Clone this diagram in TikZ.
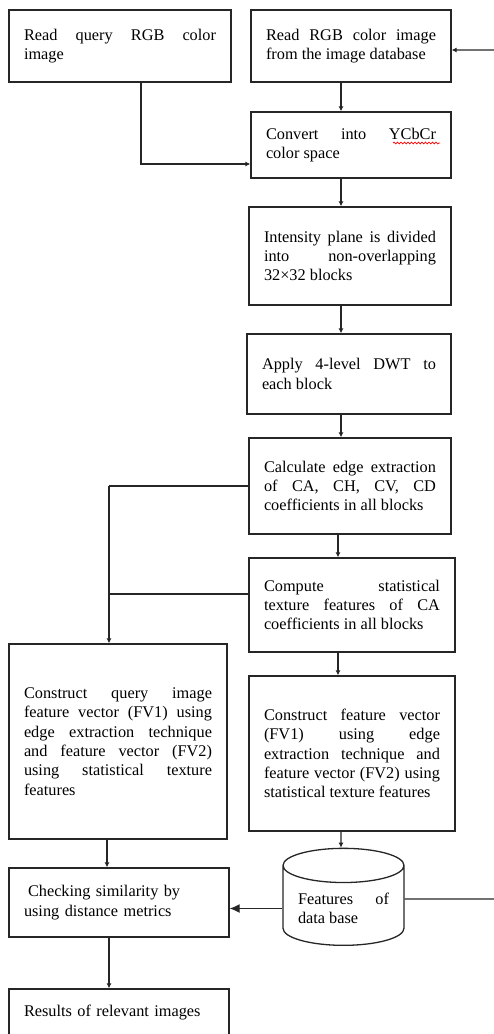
\documentclass[tikz,border=0pt]{standalone}
\usepackage{fontspec}
\setmainfont{Liberation Serif}
\usepackage{tikz}
\usetikzlibrary{positioning,arrows.meta,calc,shapes.geometric,decorations.pathmorphing}
\tolerance=10000
\hbadness=10000

\begin{document}
\begin{tikzpicture}[
  x=1pt, y=-1pt,
  box/.style={draw=black!85, line width=1.3pt, inner xsep=15pt, inner ysep=0pt, align=justify, font=\fontsize{16.3}{19.4}\selectfont},
  dbase/.style={draw=black!85, line width=1.3pt, cylinder, shape border rotate=90, aspect=0.35, minimum width=121pt, minimum height=97pt, text width=91pt, align=justify, font=\fontsize{16.3}{19.4}\selectfont},
  arr/.style={draw=black!85, line width=1.3pt, -{Latex[length=5pt,width=5pt]}},
  bigarr/.style={draw=black!85, line width=1.3pt, -{Latex[length=10pt,width=9pt]}},
  ln/.style={draw=black!85, line width=1.3pt}
]
\useasboundingbox (0,0) rectangle (493,1034);

% right column
\node[box, text width=192pt, minimum height=72pt] (rqry) at (120,46) {Read query RGB color\linebreak image};
\node[box, text width=170pt, minimum height=72pt] (rdb) at (351,46) {Read RGB color image\linebreak from the image database};
\node[box, text width=170pt, minimum height=66pt] (conv) at (351,145) {Convert into YCbCr\linebreak color space};
\node[box, text width=172pt, minimum height=98pt] (plane) at (350,256) {Intensity plane is divided\linebreak into non-overlapping\linebreak 32×32 blocks};
\node[box, text width=174pt, minimum height=80pt] (dwt) at (349,374) {Apply 4-level DWT to\linebreak each block};
\node[box, text width=172pt, minimum height=96pt] (edge) at (350,486) {Calculate edge extraction\linebreak of CA, CH, CV, CD\linebreak coefficients in all blocks};
\node[box, text width=176pt, minimum height=94pt] (stat) at (352,605) {Compute statistical\linebreak texture features of CA\linebreak coefficients in all blocks};
\node[box, text width=176pt, minimum height=155pt] (fvdb) at (352,753.5) {Construct feature vector\linebreak (FV1) using edge\linebreak extraction technique and\linebreak feature vector (FV2) using\linebreak statistical texture features};
\node[dbase] (feat) at (343.5,908.5) {Features of\linebreak data base};

% left column
\node[box, text width=188pt, minimum height=195pt] (fvq) at (118,741.5) {Construct query image\linebreak feature vector (FV1) using\linebreak edge extraction technique\linebreak and feature vector (FV2)\linebreak using statistical texture\linebreak features};
\node[box, text width=190pt, minimum height=69pt, align=left] (sim) at (119,902.5) {\hspace*{4pt}Checking similarity by\\using distance metrics};
\node[box, text width=190pt, minimum height=48pt, align=left] (res) at (119,1013) {Results of relevant images};

% spell check mark
\draw[red, line width=0.7pt, decorate, decoration={snake, amplitude=0.9pt, segment length=3.5pt}] (393,143) -- (440,143);

\coordinate (fm) at (109,486);
\coordinate (hm) at (109,594);
\coordinate (fbr) at (497,899);

\draw[arr] ([xshift=-10pt]rdb.south) -- ([xshift=-10pt]conv.north);
\draw[arr] ([xshift=21pt]rqry.south) |- ([yshift=-19pt]conv.west);
\draw[arr] ([xshift=-10pt]conv.south) -- ([xshift=-9pt]plane.north);
\draw[arr] ([xshift=-9pt]plane.south) -- ([xshift=-8pt]dwt.north);
\draw[arr] ([xshift=-8pt]dwt.south) -- ([xshift=-9pt]edge.north);
\draw[arr] ([xshift=-12pt]edge.south) -- ([xshift=-14pt]stat.north);
\draw[arr] ([xshift=-14pt]stat.south) -- ([xshift=-14pt]fvdb.north);
\draw[arr] ([xshift=-11pt]fvdb.south) -- ([xshift=-2.5pt]feat.north);
\draw[ln] (edge.west) -- (fm);
\draw[ln] ([yshift=11pt]stat.west) -- (hm);
\draw[arr] (fm) -- ([xshift=-9pt]fvq.north);
\draw[arr] ([xshift=-11pt]fvq.south) -- ([xshift=-12pt]sim.north);
\draw[arr] ([xshift=-10pt]sim.south) -- ([xshift=-10pt]res.north);
\draw[bigarr] (feat.west) -- (feat.west -| sim.east);
\draw[arr] ([yshift=9.5pt]feat.east) -- (fbr) |- ([yshift=-4pt]rdb.east);

\end{tikzpicture}
\end{document}
